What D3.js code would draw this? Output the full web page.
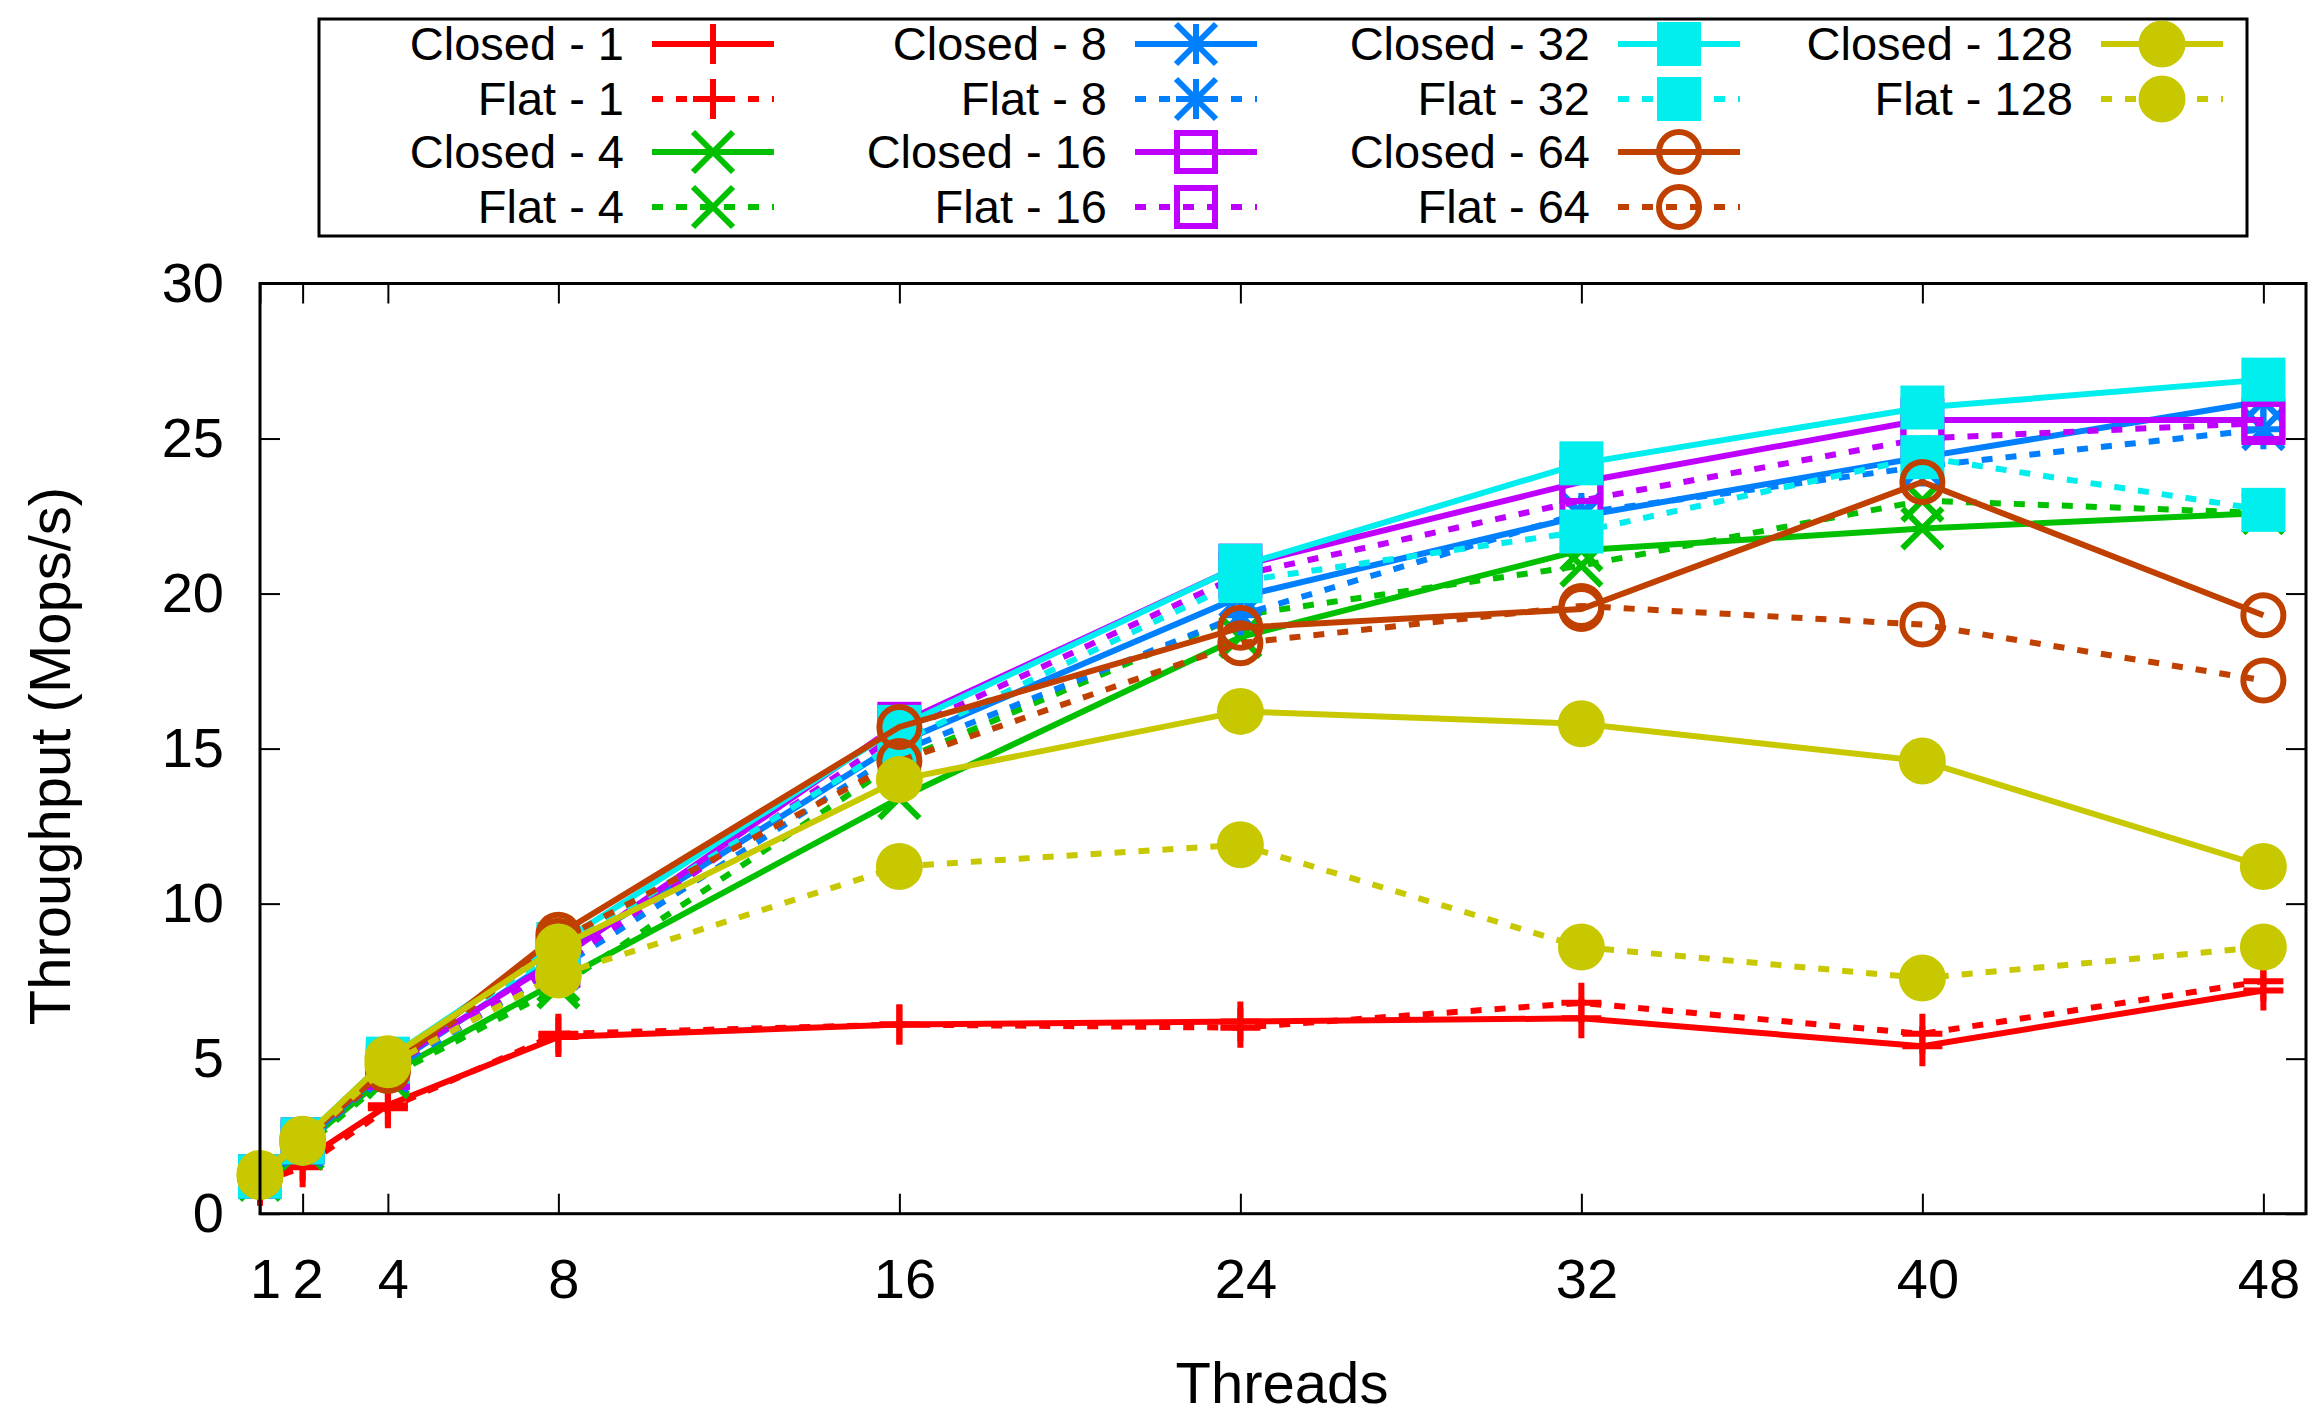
<!DOCTYPE html>
<html>
<head>
    <title>Throughput chart</title>
    <script src="https://d3js.org/d3.v7.min.js"></script>
    <style>
        body { margin: 0; background: #fff; }
        text { font-family: "Liberation Sans", Arial, Helvetica, sans-serif; }
    </style>
</head>
<body>
    <script>
        var threads = [1, 2, 4, 8, 16, 24, 32, 40, 48];
        var yTicks = [0, 5, 10, 15, 20, 25, 30];

        var closed1 = [0.9, 1.7, 3.5, 5.7, 6.1, 6.2, 6.3, 5.4, 7.2];
        var flat1 = [1.0, 1.5, 3.4, 5.8, 6.1, 6.0, 6.8, 5.8, 7.5];
        var closed4 = [1.1, 2.2, 4.5, 7.5, 13.4, 18.6, 21.4, 22.1, 22.6];
        var flat4 = [1.1, 2.1, 4.4, 7.3, 14.6, 19.3, 20.9, 23.0, 22.6];
        var closed8 = [1.2, 2.3, 4.7, 8.3, 15.2, 19.9, 22.5, 24.4, 26.2];
        var flat8 = [1.2, 2.2, 4.6, 7.9, 14.9, 19.3, 22.6, 24.1, 25.3];
        var closed16 = [1.2, 2.4, 4.8, 8.2, 15.8, 20.9, 23.6, 25.6, 25.6];
        var flat16 = [1.2, 2.3, 4.7, 8.0, 15.5, 20.6, 23.0, 25.0, 25.5];
        var closed32 = [1.2, 2.4, 5.0, 8.7, 15.7, 20.9, 24.2, 26.0, 26.9];
        var flat32 = [1.2, 2.3, 4.9, 8.5, 15.2, 20.4, 22.0, 24.4, 22.7];
        var closed64 = [1.2, 2.4, 4.7, 9.0, 15.7, 18.9, 19.5, 23.6, 19.3];
        var flat64 = [1.2, 2.3, 4.6, 8.8, 14.6, 18.4, 19.6, 19.0, 17.2];
        var closed128 = [1.3, 2.4, 5.0, 8.6, 14.0, 16.2, 15.8, 14.6, 11.2];
        var flat128 = [1.2, 2.3, 4.8, 7.7, 11.2, 11.9, 8.6, 7.6, 8.6];

        // gnuplot-style series list: name, values, colour, marker, dotted?
        var series = [
            { name: "Closed - 1", values: closed1, color: "#ff0000", marker: "plus", dotted: false },
            { name: "Flat - 1", values: flat1, color: "#ff0000", marker: "plus", dotted: true },
            { name: "Closed - 4", values: closed4, color: "#00c000", marker: "cross", dotted: false },
            { name: "Flat - 4", values: flat4, color: "#00c000", marker: "cross", dotted: true },
            { name: "Closed - 8", values: closed8, color: "#0080ff", marker: "star", dotted: false },
            { name: "Flat - 8", values: flat8, color: "#0080ff", marker: "star", dotted: true },
            { name: "Closed - 16", values: closed16, color: "#c000ff", marker: "square", dotted: false },
            { name: "Flat - 16", values: flat16, color: "#c000ff", marker: "square", dotted: true },
            { name: "Closed - 32", values: closed32, color: "#00eeee", marker: "fsquare", dotted: false },
            { name: "Flat - 32", values: flat32, color: "#00eeee", marker: "fsquare", dotted: true },
            { name: "Closed - 64", values: closed64, color: "#c04000", marker: "circle", dotted: false },
            { name: "Flat - 64", values: flat64, color: "#c04000", marker: "circle", dotted: true },
            { name: "Closed - 128", values: closed128, color: "#c8c800", marker: "fcircle", dotted: false },
            { name: "Flat - 128", values: flat128, color: "#c8c800", marker: "fcircle", dotted: true }
        ];

        var width = 2315, height = 1417;
        var plotLeft = 260, plotRight = 2306, plotTop = 283.5, plotBottom = 1213.7;
        var lineW = 6;
        var dash = "11,13";

        var svg = d3.select("body").append("svg")
            .attr("width", width)
            .attr("height", height);

        var x = d3.scaleLinear().domain([1, 49]).range([plotLeft, plotRight]);
        var y = d3.scaleLinear().domain([0, 30]).range([plotBottom, plotTop]);

        function drawMarker(g, type, cx, cy, color) {
            var s = 20;
            if (type == "plus" || type == "star") {
                g.append("path").attr("d", `M${cx - s},${cy}H${cx + s}M${cx},${cy - s}V${cy + s}`)
                    .style("stroke", color).style("stroke-width", lineW).style("fill", "none");
            }
            if (type == "cross" || type == "star") {
                g.append("path").attr("d", `M${cx - s},${cy - s}L${cx + s},${cy + s}M${cx - s},${cy + s}L${cx + s},${cy - s}`)
                    .style("stroke", color).style("stroke-width", lineW).style("fill", "none");
            }
            if (type == "square") {
                g.append("rect").attr("x", cx - 19).attr("y", cy - 19).attr("width", 38).attr("height", 38)
                    .style("stroke", color).style("stroke-width", lineW).style("fill", "none");
            }
            if (type == "fsquare") {
                g.append("rect").attr("x", cx - 22).attr("y", cy - 22).attr("width", 44).attr("height", 44)
                    .style("fill", color);
            }
            if (type == "circle") {
                g.append("circle").attr("cx", cx).attr("cy", cy).attr("r", 20)
                    .style("stroke", color).style("stroke-width", lineW).style("fill", "none");
            }
            if (type == "fcircle") {
                g.append("circle").attr("cx", cx).attr("cy", cy).attr("r", 23.5)
                    .style("fill", color);
            }
        }

        // axes: ticks point inward on all four sides
        var fontSize = 56;
        svg.append("g").attr("transform", `translate(0,${plotBottom})`)
            .call(d3.axisBottom(x).tickValues(threads).tickSize(-20).tickPadding(45))
            .selectAll(".tick text").attr("dx", 5);
        svg.append("g").attr("transform", `translate(0,${plotTop})`)
            .call(d3.axisTop(x).tickValues(threads).tickSize(-20).tickFormat(""));
        svg.append("g").attr("transform", `translate(${plotLeft},0)`)
            .call(d3.axisLeft(y).tickValues(yTicks).tickSize(-20).tickPadding(36));
        svg.append("g").attr("transform", `translate(${plotRight},0)`)
            .call(d3.axisRight(y).tickValues(yTicks).tickSize(-20).tickFormat(""));

        svg.selectAll(".domain").remove();
        svg.selectAll(".tick line").style("stroke", "#000").style("stroke-width", 2);
        svg.selectAll(".tick text").style("font-size", fontSize + "px").style("fill", "#000")
            .style("font-family", "'Liberation Sans', Arial, sans-serif");

        var plot = svg.append("g");
        var line = d3.line().x(function (d) { return x(d[0]); }).y(function (d) { return y(d[1]); });

        series.forEach(function (s) {
            var pts = threads.map(function (t, i) { return [t, s.values[i]]; });
            plot.append("path").datum(pts).attr("d", line)
                .style("fill", "none").style("stroke", s.color).style("stroke-width", lineW)
                .style("stroke-dasharray", s.dotted ? dash : null);
            pts.forEach(function (p) { drawMarker(plot, s.marker, x(p[0]), y(p[1]), s.color); });
        });

        // plot frame
        svg.append("rect").attr("x", plotLeft).attr("y", plotTop)
            .attr("width", plotRight - plotLeft).attr("height", plotBottom - plotTop)
            .style("fill", "none").style("stroke", "#000").style("stroke-width", 3);

        // axis titles
        svg.append("text").attr("x", 1282).attr("y", 1403).attr("text-anchor", "middle")
            .style("font-size", "58px").text("Threads");
        svg.append("text").attr("transform", "translate(70,756) rotate(-90)").attr("text-anchor", "middle")
            .style("font-size", "58px").text("Throughput (Mops/s)");

        // legend
        var legend = svg.append("g");
        legend.append("rect").attr("x", 319).attr("y", 19).attr("width", 1928).attr("height", 217)
            .style("fill", "#fff").style("stroke", "#000").style("stroke-width", 3);
        var rowY = [44, 99, 152, 207];
        series.forEach(function (s, i) {
            var col = Math.floor(i / 4), row = i % 4;
            var tx = 624 + col * 483, ly = rowY[row];
            legend.append("text").attr("x", tx).attr("y", ly).attr("dy", "0.35em")
                .attr("text-anchor", "end").style("font-size", "47px").text(s.name);
            var x0 = tx + 28, x1 = x0 + 122;
            legend.append("line").attr("x1", x0).attr("x2", x1).attr("y1", ly).attr("y2", ly)
                .style("stroke", s.color).style("stroke-width", lineW)
                .style("stroke-dasharray", s.dotted ? dash : null);
            drawMarker(legend, s.marker, (x0 + x1) / 2, ly, s.color);
        });
    </script>
</body>
</html>
